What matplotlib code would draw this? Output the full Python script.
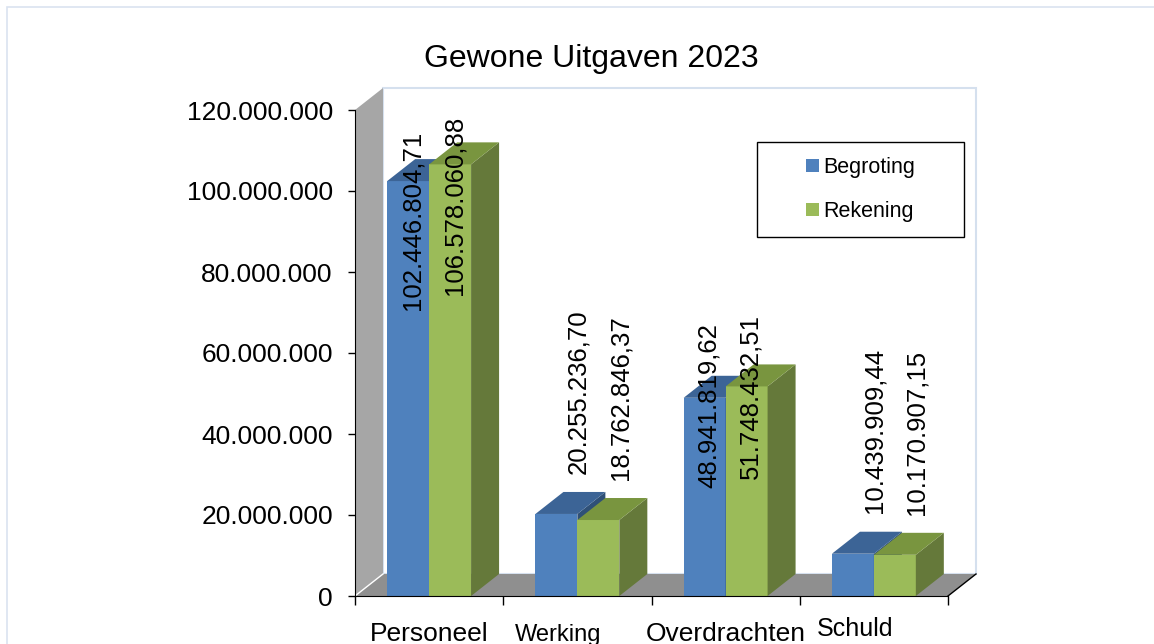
import matplotlib
matplotlib.use('Agg')
import matplotlib.pyplot as plt
from matplotlib.patches import Polygon, Rectangle, Patch
from matplotlib.ticker import FuncFormatter
from matplotlib import transforms

plt.rcParams['font.family'] = ['Liberation Sans', 'DejaVu Sans']

# data
categories = ['Personeel', 'Werking', 'Overdrachten', 'Schuld']
series_names = ['Begroting', 'Rekening']
begroting = [102446804.71, 20255236.70, 48941819.62, 10439909.44]
rekening = [106578060.88, 18762846.37, 51748432.51, 10170907.15]
y_ticks = [0, 20e6, 40e6, 60e6, 80e6, 100e6, 120e6]

# colours: front, top, side
blue = ('#4F81BD', '#3C6496', '#2F5077')
green = ('#9BBB59', '#79953F', '#65793A')

W, H = 1154, 644


def nl_fmt(v, dec=0):
    s = f"{v:,.{dec}f}"
    return s.replace(',', '#').replace('.', ',').replace('#', '.')


fig = plt.figure(figsize=(W / 100, H / 100), dpi=100)
# axes box in pixels: x 355..948, y 110..596
ax = fig.add_axes([355 / W, (H - 596) / H, 593 / W, 486 / H])
ax.set_xlim(0, 4)
ax.set_ylim(0, 120e6)

# 3d depth offset (pixels -> data)
dx = 28 / (593 / 4)
dy = 22 * 120e6 / 486

# back wall, left wall, floor
ax.add_patch(Rectangle((dx, dy), 4, 120e6, facecolor='white', edgecolor='#D5E0EE',
                       lw=1.5, clip_on=False, zorder=0))
ax.add_patch(Polygon([(0, 0), (0, 120e6), (dx, 120e6 + dy), (dx, dy)],
                     closed=True, facecolor='#A6A6A6', edgecolor='none', clip_on=False, zorder=0.5))
ax.add_patch(Polygon([(0, 0), (4, 0), (4 + dx, dy), (dx, dy)],
                     closed=True, facecolor='#8F8F8F', edgecolor='none', clip_on=False, zorder=0.6))
ax.plot([0, dx], [0, dy], color='white', lw=1, clip_on=False, zorder=0.7)
ax.plot([4, 4 + dx], [0, dy], color='black', lw=1, clip_on=False, zorder=0.7)

w = 0.283
for j, (vals, cols) in enumerate([(begroting, blue), (rekening, green)]):
    lefts = [i + (1 - 2 * w) / 2 + j * w for i in range(len(categories))]
    bars = ax.bar(lefts, vals, width=w, align='edge', color=cols[0], edgecolor='none',
                  label=series_names[j])
    for i, (b, x0, v) in enumerate(zip(bars, lefts, vals)):
        z = 2 + i * 10 + j * 4
        b.set_zorder(z)
        x1 = x0 + w
        side = Polygon([(x1, 0), (x1 + dx, dy), (x1 + dx, v + dy), (x1, v)],
                       closed=True, facecolor=cols[2], edgecolor='none', clip_on=False, zorder=z + 1)
        top = Polygon([(x0, v), (x1, v), (x1 + dx, v + dy), (x0 + dx, v + dy)],
                      closed=True, facecolor=cols[1], edgecolor='none', clip_on=False, zorder=z + 2)
        ax.add_patch(side)
        ax.add_patch(top)
        xc = x0 + w / 2
        if v > 40e6:
            ax.text(xc + 0.027, 0.858 * v + 4.94e6, nl_fmt(v, 2), rotation=90,
                    ha='center', va='center', fontsize=18.5, zorder=60, clip_on=False)
        else:
            ax.text(xc + 0.148, v + dy + 4.5e6, nl_fmt(v, 2), rotation=90,
                    ha='center', va='bottom', fontsize=18.5, zorder=60, clip_on=False)

# axes styling
for s in ['top', 'right']:
    ax.spines[s].set_visible(False)
ax.spines['left'].set_zorder(70)
ax.spines['bottom'].set_zorder(70)
ax.set_yticks(y_ticks)
ax.yaxis.set_major_formatter(FuncFormatter(lambda v, p: nl_fmt(v)))
ax.tick_params(axis='y', length=5, width=1, pad=11, labelsize=19, direction='out')
ax.set_xticks(range(5))
ax.set_xticklabels([])
ax.tick_params(axis='x', length=6.5, width=1, direction='out')
ax.set_facecolor('none')

# category labels (Excel staggers the narrow ones)
lab_style = {
    'Personeel': dict(fontsize=19, shift=0, below=45),
    'Werking': dict(fontsize=17, shift=-19, below=45),
    'Overdrachten': dict(fontsize=19, shift=0, below=45),
    'Schuld': dict(fontsize=18, shift=-19, below=40),
}
for i, c in enumerate(categories):
    st = lab_style[c]
    tr = transforms.offset_copy(ax.get_xaxis_transform(), fig=fig,
                                x=st['shift'], y=-st['below'], units='dots')
    ax.text(i + 0.5, 0, c, transform=tr, ha='center', va='baseline',
            fontsize=st['fontsize'], clip_on=False)

# title
fig.text(591 / W, 1 - 67 / H, 'Gewone Uitgaven 2023', ha='center', va='baseline', fontsize=23)

# legend with its own frame
fig.add_artist(Rectangle((757 / W, 1 - 237 / H), 207 / W, 95 / H, transform=fig.transFigure,
                         fill=False, edgecolor='black', lw=1, zorder=5))
handles = [Patch(facecolor=blue[0]), Patch(facecolor=green[0])]
fig.legend(handles, series_names, loc='center', bbox_to_anchor=(860.5 / W, 1 - 189.5 / H),
           frameon=False, fontsize=15.5, handlelength=0.58, handleheight=0.58,
           handletextpad=0.2, labelspacing=1.08, borderpad=0)

# outer chart border
fig.add_artist(Rectangle((7 / W, -0.1), 1.2, 1.1 - 7 / H, transform=fig.transFigure,
                         fill=False, edgecolor='#DAE3F0', lw=1.2, zorder=-1))

fig.savefig('out.png', dpi=100)
